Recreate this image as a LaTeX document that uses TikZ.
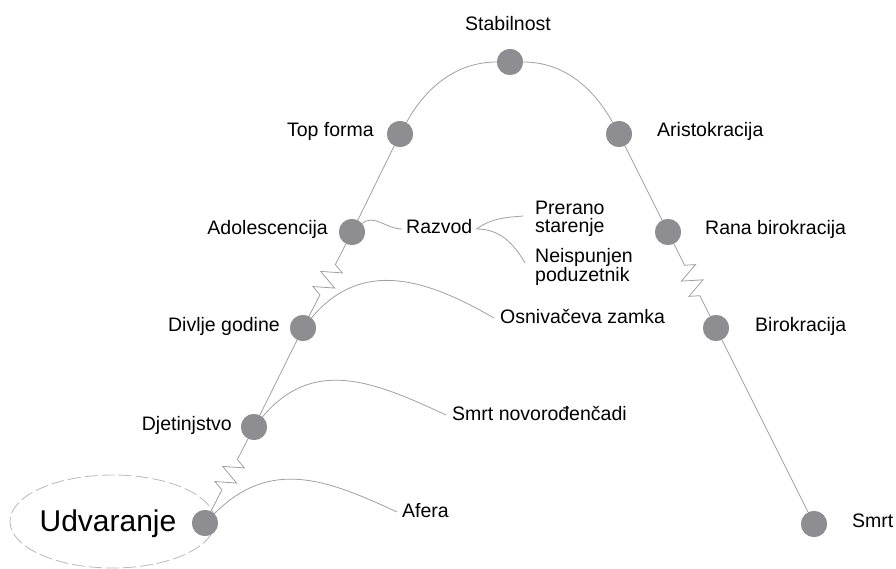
\documentclass[tikz,border=0pt]{standalone}
\usepackage{fontspec}
\setmainfont{Liberation Sans}
\usetikzlibrary{decorations.pathmorphing,shapes.geometric}
\definecolor{dotgray}{RGB}{142,142,146}
\definecolor{linegray}{RGB}{160,160,160}
\definecolor{dashgray}{RGB}{185,185,185}
\begin{document}
\begin{tikzpicture}[x=1pt,y=-1pt,
  dot/.style={circle,fill=dotgray,draw=none,minimum size=26pt,inner sep=0pt},
  lbl/.style={font=\fontsize{19.5}{18.5}\selectfont,inner sep=0pt,text height=14pt,text depth=4pt},
  lblr/.style={lbl,anchor=west},
  lbll/.style={lbl,anchor=east},
  multi/.style={font=\fontsize{19.5}{18.5}\selectfont,inner sep=0pt,anchor=west,align=left},
  conn/.style={draw=linegray,line width=0.8pt},
  spring/.style={conn,decorate,decoration={zigzag,segment length=17pt,amplitude=10pt,pre length=24pt,post length=22pt}}
]
\useasboundingbox (0,0) rectangle (896,569);

% dashed ellipse and its text
\node[ellipse,draw=dashgray,line width=0.8pt,dash pattern=on 13pt off 4pt,minimum width=205pt,minimum height=93pt,inner sep=0pt] (udvell) at (112.5,521.5) {};
\node[font=\fontsize{30}{32}\selectfont,inner sep=0pt,text height=21.5pt,text depth=6.5pt] (udvt) at (108,524) {Udvaranje};

% circle nodes
\node[dot] (udv)   at (205,523) {};
\node[dot] (djet)  at (254,427) {};
\node[dot] (div)   at (303,328) {};
\node[dot] (adol)  at (352,232) {};
\node[dot] (topf)  at (400,134) {};
\node[dot] (stab)  at (510,62) {};
\node[dot] (arist) at (619,134) {};
\node[dot] (rana)  at (668,232) {};
\node[dot] (birok) at (716,328) {};
\node[dot] (smrt)  at (814,524) {};

% labels
\node[lbl] (stabl) at (508,26) {Stabilnost};
\node[lbll] (topfl) at (374,132) {Top forma};
\node[lblr] (aristl) at (657,132) {Aristokracija};
\node[lbll] (adoll) at (328,230) {Adolescencija};
\node[lblr] (ranal) at (705,230) {Rana birokracija};
\node[lbll] (divl) at (280,326) {Divlje godine};
\node[lblr] (birokl) at (755,326) {Birokracija};
\node[lbll] (djetl) at (232,425) {Djetinjstvo};
\node[lblr] (smrtl) at (852,522) {Smrt};

\node[lblr,inner xsep=4pt] (razv) at (402,229) {Razvod};
\node[multi] (prer) at (535,219) {Prerano\\starenje};
\node[multi] (neisp) at (535,267) {Neispunjen\\poduzetnik};
\node[lblr,inner xsep=6pt] (osn) at (494,318) {Osnivačeva zamka};
\node[lblr,inner xsep=6pt] (smrtn) at (446,415) {Smrt novorođenčadi};
\node[lblr,inner xsep=5pt] (afera) at (397,512) {Afera};

% main path
\draw[spring] (udv) -- (djet);
\draw[conn] (djet) -- (div);
\draw[spring] (div) -- (adol);
\draw[conn] (adol) -- (topf);
\draw[conn] (topf) to[out=61,in=180,looseness=0.95] (stab) to[out=0,in=119,looseness=0.95] (arist);
\draw[conn] (arist) -- (rana);
\draw[spring] (rana) -- (birok);
\draw[conn] (birok) -- (smrt);

% branches
\draw[conn] (adol) to[out=40,in=180] (razv.west);
\draw[conn] (razv.east) to[out=35,in=185] ([xshift=-12pt,yshift=3pt]prer.west);
\draw[conn] (razv.east) to[out=0,in=120] ([xshift=-10pt,yshift=4pt]neisp.west);
\draw[conn] (div) to[out=50,in=150,looseness=1.1] (osn.west);
\draw[conn] (djet) to[out=50,in=155,looseness=1.1] (smrtn.west);
\draw[conn] (udv) to[out=45,in=155,looseness=1.1] (afera.west);

% redraw dots on top
\foreach \n/\x/\y in {udv/205/523,djet/254/427,div/303/328,adol/352/232,topf/400/134,stab/510/62,arist/619/134,rana/668/232,birok/716/328,smrt/814/524}
  \fill[dotgray] (\x,\y) circle (13pt);
\end{tikzpicture}
\end{document}
